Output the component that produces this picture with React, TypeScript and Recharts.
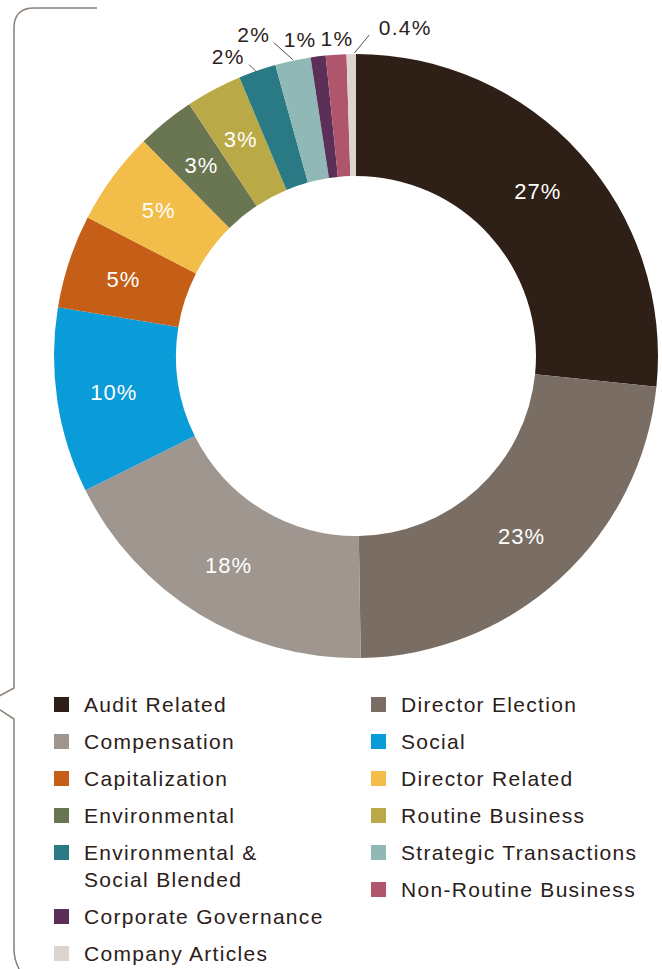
import React from "react";
import { PieChart, Pie, Cell, Customized } from "recharts";

const categories = [
  "Audit Related",
  "Director Election",
  "Compensation",
  "Social",
  "Capitalization",
  "Director Related",
  "Environmental",
  "Routine Business",
  "Environmental & Social Blended",
  "Strategic Transactions",
  "Corporate Governance",
  "Non-Routine Business",
  "Company Articles",
];
const values = [26.6, 23.1, 17.9, 9.9, 5.0, 5.0, 3.1, 3.0, 2.0, 1.9, 0.8, 1.1, 0.5];
const valueLabels = ["27%", "23%", "18%", "10%", "5%", "5%", "3%", "3%", "2%", "2%", "1%", "1%", "0.4%"];
const legendLines: string[][] = [
  ["Audit Related"],
  ["Director Election"],
  ["Compensation"],
  ["Social"],
  ["Capitalization"],
  ["Director Related"],
  ["Environmental"],
  ["Routine Business"],
  ["Environmental &", "Social Blended"],
  ["Strategic Transactions"],
  ["Corporate Governance"],
  ["Non-Routine Business"],
  ["Company Articles"],
];

const COLORS = [
  "#2e1f17",
  "#7a6e64",
  "#9e968f",
  "#0a9bd9",
  "#c55f18",
  "#f3bd4a",
  "#6a7552",
  "#b9aa47",
  "#297a84",
  "#8fb8b6",
  "#5b2f58",
  "#b0566c",
  "#dcd4cf",
];

// layout for outside labels (offsets from the slice's outer mid point)
const OUTSIDE: Record<number, { lx: number; ly: number; line?: [number, number, number, number] }> = {
  8: { lx: -29, ly: -14, line: [-1, 1, -8, -6] },
  9: { lx: -39, ly: -26, line: [0, -1, -19, -18] },
  10: { lx: -18, ly: -17 },
  11: { lx: 1, ly: -16 },
  12: { lx: 54, ly: -27, line: [3, -1, 18, -19] },
};

const data = categories.map((name, i) => ({ name, value: values[i], label: valueLabels[i] }));

const FONT = "'Liberation Sans', Arial, Helvetica, sans-serif";
const TEXT = "#2b2019";
const RAD = Math.PI / 180;

const renderLabel = (props: any) => {
  const { cx, cy, midAngle, innerRadius, outerRadius, index } = props;
  const o = OUTSIDE[index];
  if (!o) {
    const r = (innerRadius + outerRadius) / 2 + 4;
    const x = cx + r * Math.cos(-midAngle * RAD);
    const y = cy + r * Math.sin(-midAngle * RAD);
    return (
      <text
        key={`l${index}`}
        x={x}
        y={y}
        fill="#ffffff"
        fontFamily={FONT}
        fontSize={22}
        letterSpacing={1}
        textAnchor="middle"
        dominantBaseline="central"
      >
        {valueLabels[index]}
      </text>
    );
  }
  const px = cx + outerRadius * Math.cos(-midAngle * RAD);
  const py = cy + outerRadius * Math.sin(-midAngle * RAD);
  return (
    <g key={`l${index}`}>
      {o.line && (
        <line
          x1={px + o.line[0]}
          y1={py + o.line[1]}
          x2={px + o.line[2]}
          y2={py + o.line[3]}
          stroke="#5a4e46"
          strokeWidth={1}
        />
      )}
      <text
        x={px + o.lx}
        y={py + o.ly}
        fill={TEXT}
        fontFamily={FONT}
        fontSize={21}
        letterSpacing={1.3}
        textAnchor="middle"
        dominantBaseline="central"
      >
        {valueLabels[index]}
      </text>
    </g>
  );
};

const Bracket = () => (
  <path
    d="M97,8 H34 Q14,8 14,28 V688 L-12,702 L14,719 V949 Q14,969 34,989"
    fill="none"
    stroke="#8a8078"
    strokeWidth={1.5}
  />
);

const LegendColumn = ({ idx }: { idx: number[] }) => (
  <div style={{ display: "flex", flexDirection: "column" }}>
    {idx.map((i) => (
      <div key={i} style={{ display: "flex", alignItems: "flex-start", marginBottom: 10 }}>
        <div
          style={{
            width: 15,
            height: 15,
            background: COLORS[i],
            marginTop: 6,
            marginRight: 15,
            flex: "none",
          }}
        />
        <div
          style={{
            fontFamily: FONT,
            fontSize: 21,
            letterSpacing: 1.3,
            lineHeight: "27px",
            color: TEXT,
            whiteSpace: "nowrap",
          }}
        >
          {legendLines[i].map((t, k) => (
            <div key={k}>{t}</div>
          ))}
        </div>
      </div>
    ))}
  </div>
);

export default function App() {
  const left = categories.map((_, i) => i).filter((i) => i % 2 === 0);
  const right = categories.map((_, i) => i).filter((i) => i % 2 === 1);
  return (
    <div style={{ position: "absolute", left: 0, top: 0, width: 662, height: 969, background: "#fff", overflow: "hidden" }}>
      <PieChart
        width={662}
        height={969}
        margin={{ top: 0, right: 0, bottom: 0, left: 0 }}
        style={{ position: "absolute", left: 0, top: 0 }}
      >
        <Customized component={Bracket} />
        <Pie
          data={data}
          dataKey="value"
          nameKey="name"
          cx={356}
          cy={356}
          innerRadius={180}
          outerRadius={302}
          startAngle={90}
          endAngle={-270}
          stroke="none"
          label={renderLabel}
          labelLine={false}
          isAnimationActive={false}
        >
          {data.map((d, i) => (
            <Cell key={d.name} fill={COLORS[i]} />
          ))}
        </Pie>
      </PieChart>
      <div style={{ position: "absolute", left: 54, top: 691, display: "flex" }}>
        <div style={{ width: 317 }}>
          <LegendColumn idx={left} />
        </div>
        <LegendColumn idx={right} />
      </div>
    </div>
  );
}
